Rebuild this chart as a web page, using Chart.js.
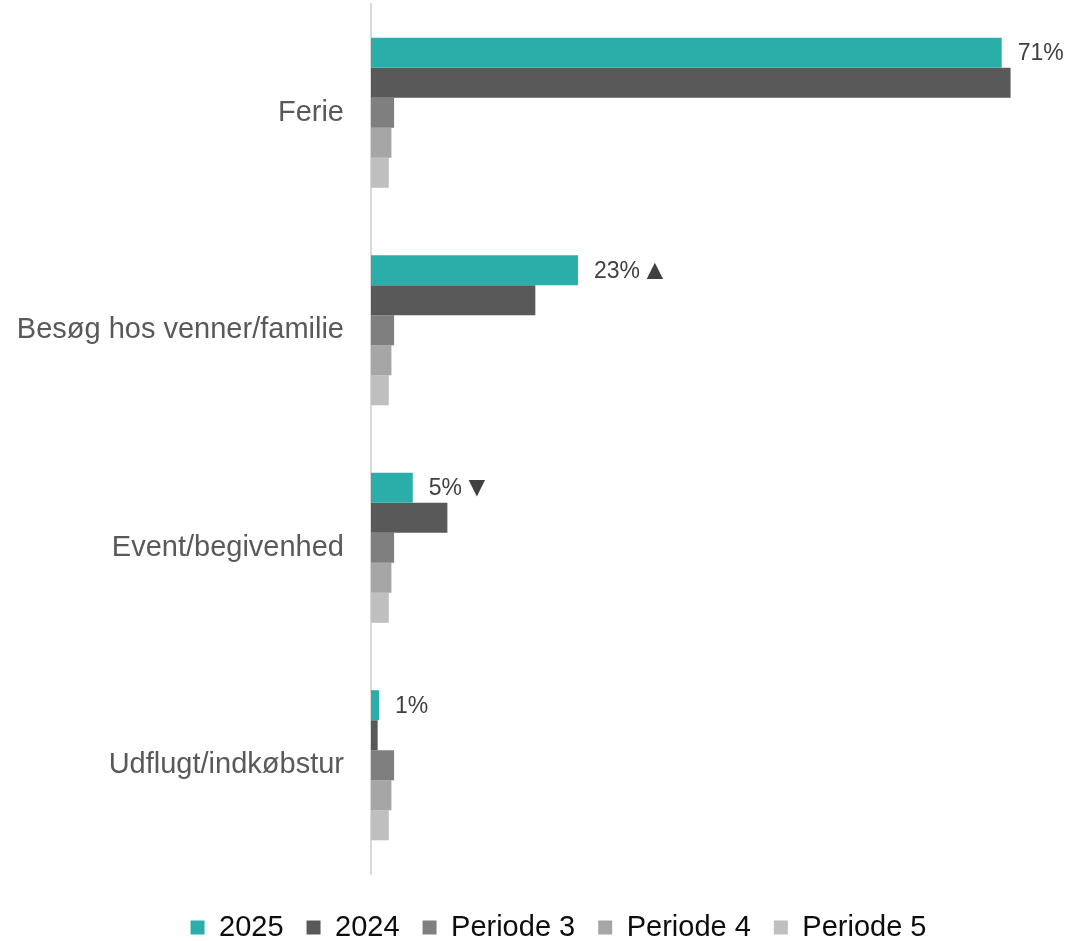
<!DOCTYPE html>
<html>
<head>
<meta charset="utf-8">
<script src="https://cdn.jsdelivr.net/npm/chart.js@4"></script>
<style>
  html, body { margin: 0; padding: 0; background: #fff; }
  #wrap { width: 1069px; height: 941px; position: relative; }
</style>
</head>
<body>
<div id="wrap"><canvas id="myChart"></canvas></div>
<script>
const categories = ['Ferie', 'Besøg hos venner/familie', 'Event/begivenhed', 'Udflugt/indkøbstur'];
const values2025 = [71, 23.3, 4.7, 0.9];
const values2024 = [72, 18.5, 8.6, 0.75];
const periode3 = [2.6, 2.6, 2.6, 2.6];
const periode4 = [2.3, 2.3, 2.3, 2.3];
const periode5 = [2.0, 2.0, 2.0, 2.0];
const labels2025 = ['71%', '23%', '5%', '1%'];
const trend2025 = ['', '▲', '▼', ''];

const fontFamily = '"Liberation Sans", Arial, "DejaVu Sans", sans-serif';

// value labels next to the 2025 bars
const valueLabels = {
    id: 'valueLabels',
    afterDatasetsDraw(chart) {
        const ctx = chart.ctx;
        const meta = chart.getDatasetMeta(0);
        ctx.save();
        ctx.fillStyle = '#404040';
        ctx.textBaseline = 'middle';
        ctx.textAlign = 'left';
        meta.data.forEach((bar, i) => {
            const x = bar.x + 16;
            ctx.font = '23px ' + fontFamily;
            ctx.fillText(labels2025[i], x, bar.y + 1);
            if (trend2025[i]) {
                const w = ctx.measureText(labels2025[i]).width;
                ctx.font = '28px ' + fontFamily;
                ctx.fillText(trend2025[i], x + w + 1, bar.y + 1);
            }
        });
        ctx.restore();
    }
};

// move the legend so it is centred like in the original
const legendShift = {
    id: 'legendShift',
    afterLayout(chart) {
        const lg = chart.legend;
        lg.left += 33;
        lg.right += 33;
        lg.top += 16;
        lg.bottom += 16;
    }
};

const ctx = document.getElementById('myChart').getContext('2d');
const myChart = new Chart(ctx, {
    type: 'bar',
    data: {
        labels: categories,
        datasets: [
            { label: '2025', data: values2025, backgroundColor: '#2BADAA' },
            { label: '2024', data: values2024, backgroundColor: '#595959' },
            { label: 'Periode 3', data: periode3, backgroundColor: '#7F7F7F' },
            { label: 'Periode 4', data: periode4, backgroundColor: '#A6A6A6' },
            { label: 'Periode 5', data: periode5, backgroundColor: '#BFBFBF' }
        ]
    },
    options: {
        indexAxis: 'y',
        responsive: true,
        maintainAspectRatio: false,
        animation: false,
        datasets: {
            bar: { categoryPercentage: 0.69, barPercentage: 1.0 }
        },
        layout: {
            padding: { left: 12, right: 30, top: 4, bottom: 5 }
        },
        scales: {
            x: {
                display: false,
                min: 0,
                max: 75.2
            },
            y: {
                grid: { display: false, drawTicks: false },
                border: { display: true, color: '#D9D9D9', width: 2 },
                ticks: {
                    color: '#595959',
                    padding: 27,
                    font: { family: fontFamily, size: 29 }
                },
                afterFit(scale) {
                    scale.width = 359;
                    scale.paddingTop = 0;
                    scale.paddingBottom = 0;
                }
            }
        },
        plugins: {
            tooltip: { enabled: false },
            legend: {
                position: 'bottom',
                labels: {
                    color: '#0D0D0D',
                    boxWidth: 14,
                    boxHeight: 14,
                    padding: 23,
                    font: { family: fontFamily, size: 29 }
                }
            }
        }
    },
    plugins: [valueLabels, legendShift]
});
</script>
</body>
</html>
